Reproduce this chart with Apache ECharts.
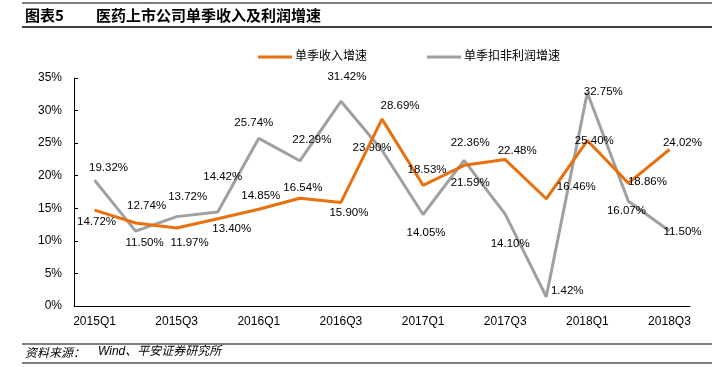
<!DOCTYPE html>
<html><head><meta charset="utf-8">
<script src="https://cdn.jsdelivr.net/npm/echarts@6/dist/echarts.min.js"></script>
<style>html,body{margin:0;padding:0;background:#fff}#c{width:724px;height:367px}</style>
</head><body><div id="c"></div>
<script>
var categories = ['2015Q1','2015Q2','2015Q3','2015Q4','2016Q1','2016Q2','2016Q3','2016Q4','2017Q1','2017Q2','2017Q3','2017Q4','2018Q1','2018Q2','2018Q3'];
var revenueGrowth = [14.72,12.74,11.97,13.40,14.85,16.54,15.90,28.69,18.53,21.59,22.48,16.46,25.40,18.86,24.02];
var profitGrowth = [19.32,11.50,13.72,14.42,25.74,22.29,31.42,23.90,14.05,22.36,14.10,1.42,32.75,16.07,11.50];
var yTicks = [0,5,10,15,20,25,30,35];
var seriesNames = ['单季收入增速','单季扣非利润增速'];

// label placement (style only)
var revLabelOffset = [[2,12],[11,-17],[13,15],[14,10],[2,-13],[3,-10],[8,10],[18,-13],[4,-15],[6,17],[12,-9],[30,-12],[7,0],[19,-1],[13,-7]];
var profLabelOffset = [[14,-12],[9,12],[11,-20],[5,-35],[-5,-15],[12,-21],[6,-24],[-10,-2],[3,18],[6,-18],[5,30],[21,-6],[16,-1],[-2,10],[13,1]];

var FONT = "'Liberation Sans','Noto Sans CJK SC',Arial,sans-serif";
function mk(vals, offs){
  return vals.map(function(v,i){
    return {value:v, label:{offset:offs[i]}};
  });
}
var chart = echarts.init(document.getElementById('c'));
chart.setOption({
  animation:false,
  textStyle:{fontFamily:FONT},
  grid:{left:74,right:34,top:78,bottom:61},
  legend:{
    left:253, top:46, itemWidth:34, itemHeight:3, itemGap:60, icon:'rect',
    textStyle:{fontSize:12,color:'#000',fontFamily:FONT,padding:[0,0,0,-2]},
    data:seriesNames
  },
  xAxis:{
    type:'category', data:categories, boundaryGap:true,
    axisLine:{lineStyle:{color:'#000',width:1}},
    axisTick:{inside:true,length:4,interval:0,lineStyle:{color:'#000'}},
    axisLabel:{interval:1,color:'#000',fontSize:12,margin:10,fontFamily:FONT}
  },
  yAxis:{
    type:'value', min:yTicks[0], max:yTicks[yTicks.length-1], interval:5,
    axisLine:{show:true,lineStyle:{color:'#000',width:1}},
    axisTick:{show:true,inside:true,length:4,lineStyle:{color:'#000'}},
    splitLine:{show:false},
    axisLabel:{color:'#000',fontSize:12,margin:12,fontFamily:FONT,formatter:function(v){return v+'%';}}
  },
  series:[
    {name:seriesNames[0],type:'line',data:mk(revenueGrowth,revLabelOffset),
     symbol:'circle',symbolSize:0,showSymbol:true,
     lineStyle:{color:'#E8700E',width:3},itemStyle:{color:'#E8700E'},z:3,
     label:{show:true,position:'inside',color:'#000',fontSize:11.5,fontFamily:FONT,
       formatter:function(p){return p.value.toFixed(2)+'%';}}},
    {name:seriesNames[1],type:'line',data:mk(profitGrowth,profLabelOffset),
     symbol:'circle',symbolSize:0,showSymbol:true,
     lineStyle:{color:'#A0A0A0',width:3},itemStyle:{color:'#A0A0A0'},z:2,
     label:{show:true,position:'inside',color:'#000',fontSize:11.5,fontFamily:FONT,
       formatter:function(p){return p.value.toFixed(2)+'%';}}}
  ],
  graphic:[
    {type:'line',shape:{x1:22,y1:3,x2:712,y2:3},style:{stroke:'#000',lineWidth:1}},
    {type:'text',left:25,top:8,style:{text:'图表5',font:"bold 15px 'Noto Sans CJK SC',sans-serif",fill:'#000'}},
    {type:'text',left:96,top:8,style:{text:'医药上市公司单季收入及利润增速',font:"bold 15px 'Noto Sans CJK SC',sans-serif",fill:'#000'}},
    {type:'line',shape:{x1:22,y1:27,x2:712,y2:27},style:{stroke:'#000',lineWidth:1.5}},
    {type:'line',shape:{x1:22,y1:344,x2:712,y2:344},style:{stroke:'#000',lineWidth:1}},
    {type:'text',left:25,top:346,style:{text:'资料来源：',font:"italic 12px 'Noto Sans CJK SC',sans-serif",fill:'#000'}},
    {type:'text',left:98,top:346,style:{text:'Wind、平安证券研究所',font:"italic 12px 'Liberation Sans','Noto Sans CJK SC',sans-serif",fill:'#000'}},
    {type:'line',shape:{x1:22,y1:363,x2:712,y2:363},style:{stroke:'#000',lineWidth:1}}
  ]
});
</script></body></html>
